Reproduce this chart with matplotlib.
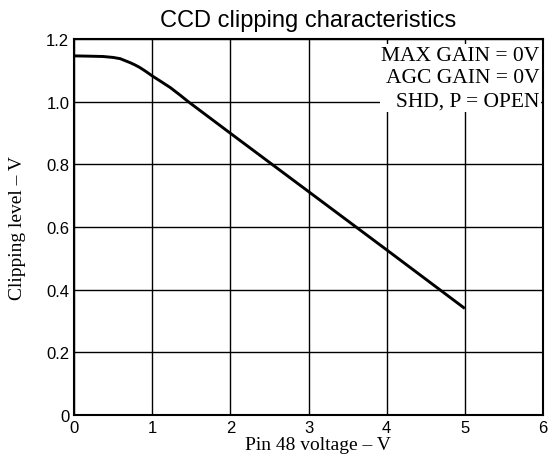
import matplotlib
matplotlib.use("Agg")
import matplotlib.pyplot as plt
import numpy as np

# Data
pin48_voltage = [0.0, 0.2, 0.37, 0.5, 0.59, 0.65, 0.72, 0.78, 0.84, 0.92, 1.0, 1.1,
                 1.23, 1.35, 1.46, 2.0, 3.0, 4.0, 5.0]
clipping_level = [1.146, 1.145, 1.144, 1.141, 1.137, 1.131, 1.124, 1.117, 1.109, 1.096,
                  1.082, 1.066, 1.045, 1.022, 1.0, 0.899, 0.713, 0.527, 0.34]
x_ticks = [0, 1, 2, 3, 4, 5, 6]
y_ticks = [0, 0.2, 0.4, 0.6, 0.8, 1.0, 1.2]
y_tick_labels = ["0", "0.2", "0.4", "0.6", "0.8", "1.0", "1.2"]
conditions = ["MAX GAIN = 0V", "AGC GAIN = 0V", "SHD, P = OPEN"]

fig = plt.figure(figsize=(5.49, 4.64), dpi=100)
ax = fig.add_axes([0.135, 0.1034, 0.854, 0.8105])

ax.plot(pin48_voltage, clipping_level, color="black", linewidth=2.1,
        solid_joinstyle="round", solid_capstyle="butt")
ax.set_xlim(0, 6)
ax.set_ylim(0, 1.2)
ax.set_xticks(x_ticks)
ax.set_yticks(y_ticks)
ax.set_yticklabels(y_tick_labels)
ax.tick_params(axis="both", length=0, labelsize=12)
ax.tick_params(axis="x", pad=3.5)
ax.tick_params(axis="y", pad=3.5)
for lab in ax.get_xticklabels() + ax.get_yticklabels():
    lab.set_family("Liberation Sans")
ax.grid(True, color="black", linewidth=1.0)
ax.set_axisbelow(True)
for s in ax.spines.values():
    s.set_linewidth(1.5)

ax.set_title("CCD clipping characteristics", family="Liberation Sans", fontsize=17, pad=9)
ax.set_xlabel("Pin 48 voltage – V", family="Liberation Serif", fontsize=14, labelpad=0)
ax.xaxis.set_label_coords(0.52, -0.057)
ax.set_ylabel("Clipping level – V", family="Liberation Serif", fontsize=14)
ax.yaxis.set_label_coords(-0.103, 0.5)

ax.text(0.993, 0.982, "\n".join(conditions), transform=ax.transAxes, ha="right", va="top",
        family="Liberation Serif", fontsize=15.5, linespacing=1.27,
        bbox=dict(facecolor="white", edgecolor="none", pad=1))

fig.savefig("out.png", dpi=100)
